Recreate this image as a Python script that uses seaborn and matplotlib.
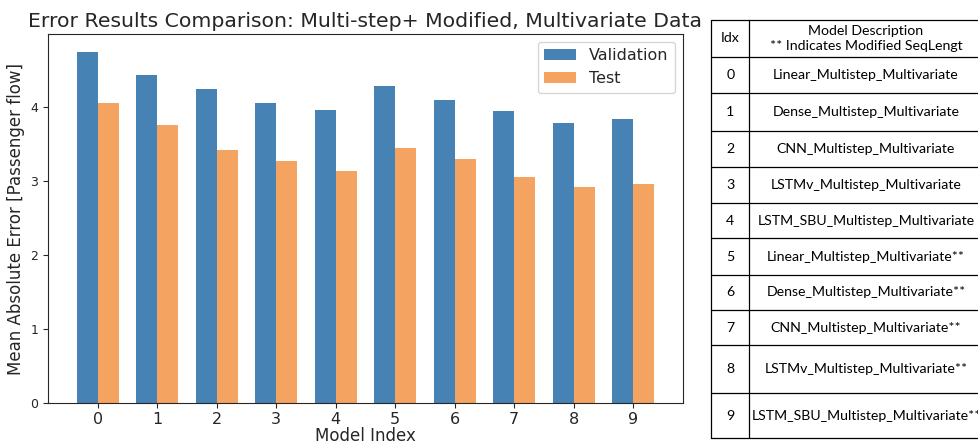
import matplotlib
matplotlib.use("Agg")
import matplotlib.pyplot as plt
from matplotlib.lines import Line2D
import numpy as np
import pandas as pd
import seaborn as sns

# Mean absolute error per model (validation and test sets)
model_index = [0, 1, 2, 3, 4, 5, 6, 7, 8, 9]
val_mae = [4.75, 4.44, 4.24, 4.06, 3.96, 4.29, 4.09, 3.95, 3.79, 3.84]
test_mae = [4.06, 3.76, 3.42, 3.27, 3.14, 3.45, 3.30, 3.05, 2.92, 2.96]
series_names = ["Validation", "Test"]
series_colors = ["steelblue", "sandybrown"]

# Model descriptions for the side table
table_header = ["Idx", "Model Description\n** Indicates Modified SeqLengt"]
model_desc = [
    "Linear_Multistep_Multivariate",
    "Dense_Multistep_Multivariate",
    "CNN_Multistep_Multivariate",
    "LSTMv_Multistep_Multivariate",
    "LSTM_SBU_Multistep_Multivariate",
    "Linear_Multistep_Multivariate**",
    "Dense_Multistep_Multivariate**",
    "CNN_Multistep_Multivariate**",
    "LSTMv_Multistep_Multivariate**",
    "LSTM_SBU_Multistep_Multivariate**",
]

df = pd.DataFrame({
    "Model Index": model_index * 2,
    "MAE": val_mae + test_mae,
    "Split": [series_names[0]] * len(val_mae) + [series_names[1]] * len(test_mae),
})

sns.set_style("ticks")
W, H = 979, 444
fig = plt.figure(figsize=(W / 100, H / 100), dpi=100)
ax = fig.add_axes([48 / W, 1 - 403 / H, (683 - 48) / W, (403 - 34) / H])

sns.barplot(data=df, x="Model Index", y="MAE", hue="Split", hue_order=series_names,
            palette=series_colors, width=0.7, saturation=1, linewidth=0, ax=ax)

ax.set_xlim(-0.835, 9.835)
ax.set_ylim(0, max(val_mae) * 1.05)
ax.set_yticks([0, 1, 2, 3, 4])
ax.tick_params(axis="x", labelsize=11.5, pad=3)
ax.tick_params(axis="y", labelsize=9)
ax.set_xlabel("Model Index", fontsize=12, labelpad=0)
ax.set_ylabel("Mean Absolute Error [Passenger flow]", fontsize=12)
ax.set_title("Error Results Comparison: Multi-step+ Modified, Multivariate Data",
             fontsize=14.7, pad=5)
ax.legend(title=None, loc="upper right", fontsize=11.5)

# Side table describing each model index
def fx(px):
    return px / W

def fy(py):
    return 1 - py / H

row_edges = [20, 56.7, 93.3, 130.7, 167.3, 202.7, 238.3, 275, 310, 345, 393.3, 438.3]
x_left, x_div, x_right = 711, 749.5, 988
line_kw = dict(color="black", lw=0.9, transform=fig.transFigure)
for yy in row_edges:
    fig.add_artist(Line2D([fx(x_left), fx(x_right)], [fy(yy), fy(yy)], **line_kw))
for xx in (x_left, x_div, x_right):
    fig.add_artist(Line2D([fx(xx), fx(xx)], [fy(row_edges[0]), fy(row_edges[-1])], **line_kw))

tkw = dict(ha="center", va="center", fontsize=10.2, family="Lato", color="black")
cx1 = (x_left + x_div) / 2
cx2 = 866
yc = (row_edges[0] + row_edges[1]) / 2
fig.text(fx(cx1), fy(yc), table_header[0], **tkw)
fig.text(fx(cx2), fy(yc), table_header[1], linespacing=1.25, **tkw)
for i, (idx, desc) in enumerate(zip(model_index, model_desc)):
    yc = (row_edges[i + 1] + row_edges[i + 2]) / 2
    fig.text(fx(cx1), fy(yc), str(idx), **tkw)
    fig.text(fx(cx2), fy(yc), desc, **tkw)

fig.savefig("out.png", dpi=100)
